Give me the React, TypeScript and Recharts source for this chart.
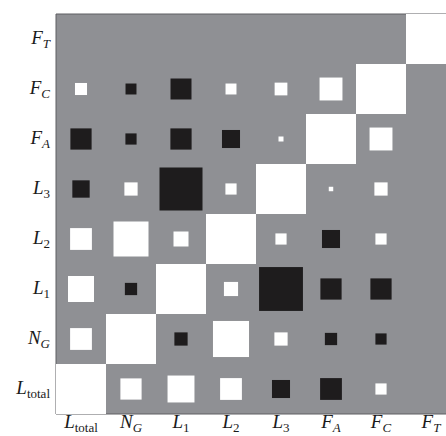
import React from "react";
import {
  ReferenceArea,
  ReferenceLine,
  Scatter,
  ScatterChart,
  XAxis,
  YAxis,
  ZAxis,
} from "recharts";

// variable labels, index 0..7 (x left->right, y bottom->top)
const labelMain = ["L", "N", "L", "L", "L", "F", "F", "F"];
const labelSub = ["total", "G", "1", "2", "3", "A", "C", "T"];
const ticks = [0, 1, 2, 3, 4, 5, 6, 7];

// signed weights, one array per row (row y = 0 is L_total at the bottom)
const rowLtotal = [1, 0.18, 0.29, 0.19, -0.13, -0.19, 0.05, 0];
const rowNG = [0.19, 1, -0.07, 0.52, 0.07, -0.06, -0.05, 0];
const rowL1 = [0.27, -0.06, 1, 0.08, -0.77, -0.18, -0.18, 0];
const rowL2 = [0.19, 0.49, 0.09, 1, 0.05, -0.13, 0.05, 0];
const rowL3 = [-0.12, 0.07, -0.74, 0.05, 1, 0.008, 0.07, 0];
const rowFA = [-0.18, -0.05, -0.18, -0.13, 0.01, 1, 0.21, 0];
const rowFC = [0.058, -0.048, -0.176, 0.048, 0.065, 0.21, 1, 0];
const rowFT = [0, 0, 0, 0, 0, 0, 0, 1];

const rows = [rowLtotal, rowNG, rowL1, rowL2, rowL3, rowFA, rowFC, rowFT];

const cells = rows.flatMap((row, y) =>
  row.map((v, x) => ({ x, y, v, a: Math.abs(v) }))
);
const positive = cells.filter((c) => c.v > 0);
const negative = cells.filter((c) => c.v < 0);

const BG = "#8f9094";
const AXIS = "#5f5f62";
const FONT = "'Liberation Serif', 'Times New Roman', serif";

function Box(props: any) {
  const { cx, cy, size, fill } = props;
  const s = Math.sqrt(Math.max(size || 0, 0));
  return <rect x={cx - s / 2} y={cy - s / 2} width={s} height={s} fill={fill} />;
}

function Label({ i, x, y, anchor }: { i: number; x: number; y: number; anchor: "end" | "middle" }) {
  const italicSub = labelSub[i] !== "total" && isNaN(Number(labelSub[i]));
  return (
    <text x={x} y={y} textAnchor={anchor} fill="#1a1a1a" fontFamily={FONT} fontSize={19}>
      <tspan fontStyle="italic">{labelMain[i]}</tspan>
      <tspan fontSize={13} dy={4} fontStyle={italicSub ? "italic" : "normal"}>
        {labelSub[i]}
      </tspan>
    </text>
  );
}

function XTick(props: any) {
  const { x, payload } = props;
  return <Label i={payload.value} x={x} y={428} anchor="middle" />;
}

function YTick(props: any) {
  const { y, payload } = props;
  return <Label i={payload.value} x={50} y={y + 5} anchor="end" />;
}

export default function App() {
  return (
    <div
      style={{
        position: "fixed",
        top: 0,
        left: 0,
        width: 446,
        height: 436,
        overflow: "hidden",
        background: "#fff",
      }}
    >
      <ScatterChart
        width={460}
        height={436}
        margin={{ top: 14, right: 4, bottom: 0, left: 0 }}
      >
        <ReferenceArea
          x1={-0.5}
          x2={7.5}
          y1={-0.5}
          y2={7.5}
          fill={BG}
          fillOpacity={1}
          stroke="none"
          ifOverflow="visible"
        />
        <XAxis
          type="number"
          dataKey="x"
          domain={[-0.5, 7.5]}
          ticks={ticks}
          allowDataOverflow
          height={22}
          stroke={AXIS}
          tickLine={false}
          tick={<XTick />}
          interval={0}
        />
        <XAxis
          xAxisId="top"
          orientation="top"
          type="number"
          dataKey="x"
          domain={[-0.5, 7.5]}
          ticks={ticks}
          height={0}
          stroke={AXIS}
          tickSize={-4}
          tick={() => <g />}
          interval={0}
        />
        <YAxis
          type="number"
          dataKey="y"
          domain={[-0.5, 7.5]}
          ticks={ticks}
          allowDataOverflow
          width={56}
          stroke={AXIS}
          tickLine={false}
          tick={<YTick />}
          interval={0}
        />
        <ZAxis type="number" dataKey="a" domain={[0, 1]} range={[0, 2500]} />
        <Scatter
          data={positive}
          fill="#ffffff"
          shape={<Box />}
          isAnimationActive={false}
        />
        <Scatter
          data={negative}
          fill="#1e1c1d"
          shape={<Box />}
          isAnimationActive={false}
        />
        <ReferenceLine y={7.5} stroke={AXIS} ifOverflow="visible" />
      </ScatterChart>
    </div>
  );
}
